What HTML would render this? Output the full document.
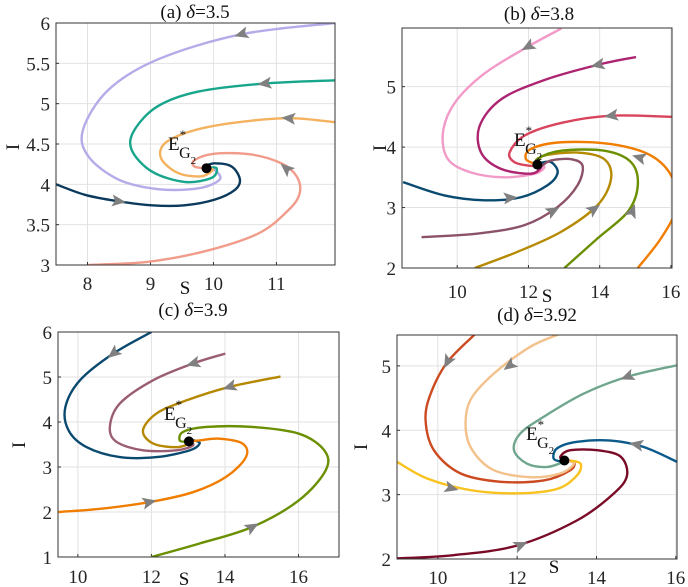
<!DOCTYPE html>
<html><head><meta charset="utf-8">
<style>
html,body{margin:0;padding:0;background:#fff;}
svg{display:block;font-family:"Liberation Serif",serif;}
.tick{font-size:19px;fill:#262626;}
.ttl{font-size:19px;fill:#111;}
</style></head>
<body>
<svg id="fig" width="688" height="587" viewBox="0 0 688 587"></svg>
<script>
// ---------- DATA ----------
const panelTitles = ["(a) ", "(b) ", "(c) ", "(d) "];
const deltaValues = ["3.5", "3.8", "3.9", "3.92"];
const xTicksA = [8, 9, 10, 11];
const yTicksA = [3, 3.5, 4, 4.5, 5, 5.5, 6];
const xTicksB = [10, 12, 14, 16];
const yTicksB = [2, 3, 4, 5];
const xTicksC = [10, 12, 14, 16];
const yTicksC = [1, 2, 3, 4, 5, 6];
const xTicksD = [10, 12, 14, 16];
const yTicksD = [2, 3, 4, 5];
const equilibrium = [[9.89, 4.2], [12.25, 3.71], [13.02, 3.57], [13.19, 3.53]];

const trajA_lavender = [[11.93,6.0],[10.44,5.86],[9.12,5.55],[8.33,5.17],[7.93,4.68],[8.01,4.35],[8.49,4.06],[9.12,3.94],[9.76,3.95],[10.1,4.06],[10.02,4.18],[9.89,4.2]];
const trajA_teal = [[11.93,5.29],[10.81,5.25],[9.76,5.15],[9.12,4.97],[8.75,4.68],[8.7,4.43],[9.02,4.16],[9.54,4.03],[9.97,4.08],[10.05,4.2],[9.89,4.2]];
const trajA_orange = [[11.93,4.77],[11.19,4.82],[10.29,4.76],[9.65,4.66],[9.23,4.51],[9.17,4.32],[9.44,4.14],[9.81,4.1],[9.99,4.18],[9.89,4.2]];
const trajA_salmon = [[8.01,3.0],[8.96,3.04],[9.86,3.17],[10.71,3.39],[11.19,3.68],[11.37,3.89],[11.32,4.1],[11.08,4.26],[10.6,4.37],[10.02,4.38],[9.7,4.3],[9.7,4.22],[9.89,4.2]];
const trajA_navy = [[7.47,4.01],[7.96,3.87],[8.49,3.79],[9.02,3.74],[9.54,3.74],[10.02,3.81],[10.34,3.93],[10.42,4.06],[10.29,4.22],[10.02,4.26],[9.86,4.22],[9.89,4.2]];

const trajB_pink = [[12.92,5.96],[11.98,5.66],[10.77,5.22],[9.93,4.73],[9.6,4.24],[9.74,3.8],[10.39,3.58],[11.33,3.5],[12.17,3.56],[12.45,3.67],[12.25,3.71]];
const trajB_magenta = [[15.02,5.49],[13.94,5.36],[12.45,5.11],[11.23,4.79],[10.63,4.35],[10.67,3.91],[11.23,3.64],[12.07,3.56],[12.36,3.67],[12.25,3.71]];
const trajB_rose = [[16.05,4.5],[14.32,4.52],[12.92,4.4],[11.89,4.19],[11.47,3.91],[11.61,3.75],[12.07,3.69],[12.25,3.71]];
const trajB_navy = [[8.48,3.42],[9.64,3.2],[10.77,3.12],[11.79,3.17],[12.54,3.37],[12.82,3.58],[12.64,3.75],[12.36,3.74],[12.25,3.71]];
const trajB_mauve = [[9.0,2.51],[10.58,2.57],[11.89,2.71],[12.82,3.01],[13.38,3.37],[13.52,3.69],[13.2,3.8],[12.64,3.78],[12.36,3.69],[12.25,3.71]];
const trajB_mustard = [[10.49,2.0],[11.7,2.27],[12.92,2.6],[13.94,3.04],[14.32,3.48],[14.13,3.8],[13.38,3.91],[12.45,3.86],[12.26,3.75]];
const trajB_green = [[13.01,2.0],[13.94,2.49],[14.79,2.93],[15.07,3.37],[14.88,3.75],[14.13,3.94],[12.92,3.94],[12.26,3.81],[12.25,3.71]];
const trajB_orange = [[15.07,2.0],[15.72,2.49],[16.14,2.98],[16.05,3.48],[15.44,3.86],[14.32,4.05],[12.92,4.08],[12.07,3.97],[11.93,3.8],[12.25,3.71]];

const trajC_navy = [[12.0,6.0],[10.96,5.52],[10.06,4.93],[9.66,4.33],[9.75,3.81],[10.24,3.44],[11.14,3.22],[12.14,3.22],[13.04,3.37],[13.31,3.52],[13.17,3.59],[13.02,3.57]];
const trajC_mauve = [[14.01,5.52],[13.13,5.3],[12.05,4.93],[11.14,4.41],[10.87,3.89],[11.05,3.56],[11.77,3.37],[12.68,3.37],[13.13,3.48],[13.02,3.57]];
const trajC_mustard = [[15.51,5.01],[14.12,4.78],[12.95,4.48],[12.14,4.19],[11.77,3.81],[12.05,3.52],[12.68,3.44],[13.04,3.52]];
const trajC_green = [[12.0,1.0],[13.31,1.3],[14.75,1.67],[16.01,2.26],[16.74,2.93],[16.7,3.37],[16.01,3.74],[14.75,3.89],[13.49,3.89],[12.86,3.78],[12.77,3.59],[12.95,3.56]];
const trajC_orange = [[9.48,2.0],[10.6,2.07],[11.95,2.22],[13.13,2.44],[14.03,2.78],[14.57,3.22],[14.48,3.52],[13.85,3.63],[13.31,3.59],[13.02,3.57]];

const trajD_redorange = [[10.95,5.5],[10.24,5.06],[9.82,4.57],[9.69,4.16],[9.9,3.69],[10.57,3.33],[11.58,3.2],[12.67,3.22],[13.34,3.38],[13.43,3.51],[13.19,3.53]];
const trajD_peach = [[13.09,5.5],[12.34,5.3],[11.41,4.88],[10.82,4.47],[10.7,4.05],[10.87,3.69],[11.41,3.38],[12.34,3.27],[13.09,3.33],[13.43,3.48],[13.19,3.53]];
const trajD_sage = [[16.03,5.01],[14.77,4.83],[13.68,4.57],[12.67,4.21],[12.08,3.95],[11.92,3.69],[12.25,3.48],[12.76,3.43],[13.18,3.51]];
const trajD_yellow = [[8.97,3.51],[9.73,3.25],[10.82,3.07],[12.0,3.02],[13.01,3.09],[13.51,3.3],[13.6,3.48],[13.34,3.53]];
const trajD_darkred = [[8.97,2.01],[10.4,2.06],[12.0,2.21],[13.51,2.6],[14.44,3.02],[14.77,3.3],[14.61,3.59],[14.02,3.69],[13.34,3.69],[13.09,3.59],[13.19,3.53]];
const trajD_blue = [[16.03,3.51],[15.19,3.74],[14.35,3.84],[13.51,3.82],[13.01,3.72],[12.92,3.56],[13.13,3.51]];

// arrow locations (data coords)
const arrowsA = [[10.44,5.86],[10.81,5.25],[11.19,4.82],[11.15,4.2],[8.5,3.79]];
const arrowsB = [[11.98,5.66],[13.94,5.36],[14.32,4.52],[15.1,3.83],[11.5,3.16],[12.7,2.95],[13.85,2.98],[14.92,2.95]];
const arrowsC = [[10.96,5.52],[13.13,5.3],[14.12,4.78],[11.95,2.22],[14.75,1.67]];
const arrowsD = [[10.24,5.06],[11.8,5.0],[14.77,4.83],[15.0,3.78],[10.35,3.1],[12.1,2.22]];

// ---------- DRAWING ----------
const NS = "http://www.w3.org/2000/svg";
const svg = document.getElementById("fig");
function mk(tag, attrs, parent) {
  const e = document.createElementNS(NS, tag);
  for (const k in attrs) e.setAttribute(k, attrs[k]);
  (parent || svg).appendChild(e);
  return e;
}
function panel(cfg) {
  const g = mk("g", {});
  
  
  const sx = v => cfg.x0 + (v - cfg.xmin) / (cfg.xmax - cfg.xmin) * (cfg.x1 - cfg.x0);
  const sy = v => cfg.y1 - (v - cfg.ymin) / (cfg.ymax - cfg.ymin) * (cfg.y1 - cfg.y0);
  mk("rect", {x: cfg.x0, y: cfg.y0, width: cfg.x1 - cfg.x0, height: cfg.y1 - cfg.y0, fill: "#fff"}, g);
  const grid = mk("g", {}, g);
  
  
  cfg.xt.forEach(t => {
    mk("line", {x1: sx(t), x2: sx(t), y1: cfg.y0, y2: cfg.y1, stroke: "#e2e2e2", "stroke-width": 1}, grid);
    mk("line", {x1: sx(t), x2: sx(t), y1: cfg.y1, y2: cfg.y1 - 3, stroke: "#333", "stroke-width": 1}, grid);
    const tl = mk("text", {x: sx(t), y: cfg.xty, "text-anchor": "middle", class: "tick"}, g);
    tl.textContent = t;
    
    
  });
  cfg.yt.forEach(t => {
    mk("line", {x1: cfg.x0, x2: cfg.x1, y1: sy(t), y2: sy(t), stroke: "#e2e2e2", "stroke-width": 1}, grid);
    mk("line", {x1: cfg.x0, x2: cfg.x0 + 3, y1: sy(t), y2: sy(t), stroke: "#333", "stroke-width": 1}, grid);
    const tl = mk("text", {x: cfg.x0 - 6, y: sy(t) + 7, "text-anchor": "end", class: "tick"}, g);
    tl.textContent = t;
    
    
  });
  const clipId = cfg.name + "-clip";
  const cp = mk("clipPath", {id: clipId}, g);
  mk("rect", {x: cfg.x0, y: cfg.y0, width: cfg.x1 - cfg.x0, height: cfg.y1 - cfg.y0}, cp);
  const plot = mk("g", {"clip-path": "url(#" + clipId + ")"}, g);
  const allPts = [];
  cfg.series.forEach(s => {
    const P = s.data.map(p => [sx(p[0]), sy(p[1])]);
    let d = "M" + P[0][0] + "," + P[0][1];
    for (let i = 0; i < P.length - 1; i++) {
      const p0 = P[Math.max(0, i - 1)], p1 = P[i], p2 = P[i + 1], p3 = P[Math.min(P.length - 1, i + 2)];
      const c1 = [p1[0] + (p2[0] - p0[0]) / 6, p1[1] + (p2[1] - p0[1]) / 6];
      const c2 = [p2[0] - (p3[0] - p1[0]) / 6, p2[1] - (p3[1] - p1[1]) / 6];
      d += " C" + c1 + " " + c2 + " " + p2;
      allPts.push([p1, p2]);
    }
    const path = mk("path", {d: d, fill: "none", stroke: s.color, "stroke-width": 2.4, "stroke-linejoin": "round"}, plot);
    
    
  });
  cfg.arrows.forEach(a => {
    const px = sx(a[0]), py = sy(a[1]);
    let best = null, bd = 1e9;
    allPts.forEach(seg => {
      const m = [(seg[0][0] + seg[1][0]) / 2, (seg[0][1] + seg[1][1]) / 2];
      const dd = (m[0] - px) ** 2 + (m[1] - py) ** 2;
      if (dd < bd) { bd = dd; best = seg; }
    });
    const ang = Math.atan2(best[1][1] - best[0][1], best[1][0] - best[0][0]) * 180 / Math.PI;
    const ar = mk("polygon", {points: "7,0 -7,-6 -4,0 -7,6", fill: "#808080",
      transform: "translate(" + px + "," + py + ") rotate(" + ang + ")"}, plot);
    
    
  });
  const eq = mk("circle", {cx: sx(cfg.eq[0]), cy: sy(cfg.eq[1]), r: 5, fill: "#000"}, plot);
  
  
  const lab = mk("text", {x: cfg.ex, y: cfg.ey, class: "ttl"}, g);
  
  
  lab.innerHTML = 'E<tspan dy="-11" font-size="13">*</tspan><tspan dx="-7" dy="19" font-size="16">G</tspan><tspan dy="6" font-size="11">2</tspan>';
  mk("rect", {x: cfg.x0, y: cfg.y0, width: cfg.x1 - cfg.x0, height: cfg.y1 - cfg.y0, fill: "none", stroke: "#333", "stroke-width": 1}, g);
  const t = mk("text", {x: cfg.tx, y: cfg.ty, "text-anchor": "middle", class: "ttl"}, g);
  
  
  t.innerHTML = cfg.title + '<tspan font-style="italic">δ</tspan>=' + cfg.delta;
  const xl = mk("text", {x: cfg.sxl, y: cfg.syl, "text-anchor": "middle", class: "ttl"}, g);
  xl.textContent = "S";
  
  
  const yl = mk("text", {x: 0, y: 0, "text-anchor": "middle", class: "ttl", transform: "translate(" + cfg.ixl + "," + cfg.iyl + ") rotate(-90)"}, g);
  yl.textContent = "I";
  
  
}

panel({name: "panel-a", x0: 56, x1: 335, y0: 23, y1: 265, xmin: 7.5, xmax: 11.93, ymin: 3, ymax: 6,
  xt: xTicksA, yt: yTicksA, xty: 290, title: panelTitles[0], delta: deltaValues[0], tx: 195, ty: 18,
  sxl: 185, syl: 294, ixl: 19, iyl: 147, eq: equilibrium[0], ex: 168, ey: 150, arrows: arrowsA,
  series: [
    {name: "trajectory-lavender", color: "#b4abe8", data: trajA_lavender},
    {name: "trajectory-teal", color: "#17a58b", data: trajA_teal},
    {name: "trajectory-orange", color: "#f4b25f", data: trajA_orange},
    {name: "trajectory-salmon", color: "#f19c8b", data: trajA_salmon},
    {name: "trajectory-navy", color: "#0b3a5d", data: trajA_navy}]});

panel({name: "panel-b", x0: 402, x1: 672, y0: 28, y1: 268, xmin: 8.45, xmax: 16.03, ymin: 2, ymax: 5.97,
  xt: xTicksB, yt: yTicksB, xty: 298, title: panelTitles[1], delta: deltaValues[1], tx: 539, ty: 20,
  sxl: 547, syl: 302, ixl: 386, iyl: 148, eq: equilibrium[1], ex: 514, ey: 146, arrows: arrowsB,
  series: [
    {name: "trajectory-pink", color: "#f29ac8", data: trajB_pink},
    {name: "trajectory-magenta", color: "#ad2470", data: trajB_magenta},
    {name: "trajectory-rose", color: "#d9445d", data: trajB_rose},
    {name: "trajectory-navy", color: "#0b4a70", data: trajB_navy},
    {name: "trajectory-mauve", color: "#8c5269", data: trajB_mauve},
    {name: "trajectory-mustard", color: "#b58a00", data: trajB_mustard},
    {name: "trajectory-green", color: "#6a8f00", data: trajB_green},
    {name: "trajectory-orange", color: "#f07d00", data: trajB_orange}]});

panel({name: "panel-c", x0: 58, x1: 339, y0: 332, y1: 557, xmin: 9.46, xmax: 17.1, ymin: 1, ymax: 6,
  xt: xTicksC, yt: yTicksC, xty: 583, title: panelTitles[2], delta: deltaValues[2], tx: 193, ty: 316,
  sxl: 184, syl: 585, ixl: 25, iyl: 445, eq: equilibrium[2], ex: 164, ey: 420, arrows: arrowsC,
  series: [
    {name: "trajectory-navy", color: "#0b4a70", data: trajC_navy},
    {name: "trajectory-mauve", color: "#9a5d72", data: trajC_mauve},
    {name: "trajectory-mustard", color: "#b58800", data: trajC_mustard},
    {name: "trajectory-green", color: "#6a8f00", data: trajC_green},
    {name: "trajectory-orange", color: "#f07d00", data: trajC_orange}]});

panel({name: "panel-d", x0: 397, x1: 677, y0: 335, y1: 559, xmin: 8.97, xmax: 16.03, ymin: 2, ymax: 5.48,
  xt: xTicksD, yt: yTicksD, xty: 584, title: panelTitles[3], delta: deltaValues[3], tx: 537, ty: 321,
  sxl: 554, syl: 573, ixl: 367, iyl: 447, eq: equilibrium[3], ex: 526, ey: 440, arrows: arrowsD,
  series: [
    {name: "trajectory-red-orange", color: "#cc4a20", data: trajD_redorange},
    {name: "trajectory-peach", color: "#f3c18b", data: trajD_peach},
    {name: "trajectory-sage", color: "#70a68e", data: trajD_sage},
    {name: "trajectory-yellow", color: "#f8c21f", data: trajD_yellow},
    {name: "trajectory-dark-red", color: "#7a0b27", data: trajD_darkred},
    {name: "trajectory-blue", color: "#0b5a8a", data: trajD_blue}]});
</script>
</body></html>
